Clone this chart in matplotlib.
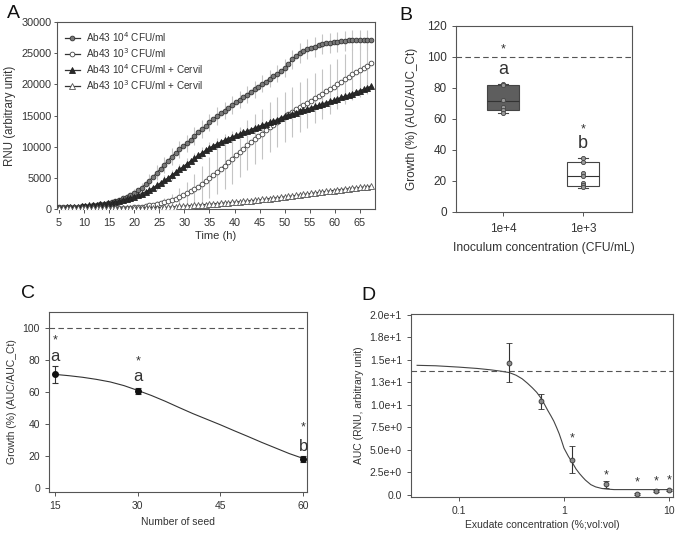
import numpy as np
import matplotlib
matplotlib.use("Agg")
import matplotlib.pyplot as plt

plt.rcParams['font.family'] = ['Liberation Sans', 'DejaVu Sans']

# ---------------- Panel A data (values in thousands RNU) ----------------
time_h = np.arange(5.0, 67.3, 0.75)
circ_1e4 = [0.25, 0.27, 0.29, 0.31, 0.34, 0.37, 0.42, 0.47, 0.53, 0.60, 0.68, 0.77, 0.87, 0.97,
            1.10, 1.27, 1.48, 1.72, 2.00, 2.30, 2.60, 3.00, 3.45, 3.95, 4.55, 5.15, 5.80, 6.45,
            7.10, 7.75, 8.40, 9.00, 9.55, 10.05, 10.55, 11.1, 11.7, 12.3, 12.8, 13.3, 13.9, 14.4,
            14.9, 15.35, 15.8, 16.25, 16.7, 17.15, 17.55, 17.95, 18.35, 18.8, 19.2, 19.65, 20.1,
            20.45, 20.9, 21.3, 21.7, 22.1, 22.6, 23.2, 24.0, 24.6, 25.0, 25.3, 25.6, 25.85, 26.05,
            26.25, 26.4, 26.55, 26.65, 26.75, 26.85, 26.95, 27.0, 27.05, 27.1, 27.1, 27.15, 27.15,
            27.1, 27.1]
circ_1e3 = [0.15, 0.15, 0.14, 0.14, 0.13, 0.13, 0.12, 0.12, 0.12, 0.12, 0.12, 0.12, 0.12, 0.12,
            0.13, 0.14, 0.16, 0.18, 0.20, 0.23, 0.28, 0.33, 0.40, 0.48, 0.58, 0.68, 0.80, 0.93,
            1.08, 1.25, 1.45, 1.67, 1.92, 2.20, 2.50, 2.85, 3.20, 3.60, 4.05, 4.50, 5.00, 5.45,
            5.95, 6.45, 6.95, 7.50, 8.05, 8.65, 9.15, 9.65, 10.2, 10.7, 11.2, 11.7, 12.1, 12.6,
            13.1, 13.5, 14.0, 14.4, 14.8, 15.2, 15.6, 16.0, 16.3, 16.7, 17.0, 17.4, 17.8, 18.2,
            18.5, 18.9, 19.3, 19.6, 20.0, 20.4, 20.8, 21.2, 21.6, 21.9, 22.3, 22.6, 23.0, 23.4]
tri_1e4 = [0.20, 0.22, 0.25, 0.28, 0.32, 0.37, 0.43, 0.50, 0.57, 0.64, 0.71, 0.79, 0.87, 0.95,
           1.04, 1.14, 1.26, 1.40, 1.56, 1.76, 1.98, 2.22, 2.48, 2.76, 3.08, 3.42, 3.80, 4.20,
           4.60, 5.00, 5.45, 5.90, 6.35, 6.80, 7.25, 7.70, 8.15, 8.60, 9.00, 9.40, 9.80, 10.15,
           10.45, 10.75, 11.05, 11.30, 11.55, 11.80, 12.05, 12.30, 12.50, 12.75, 13.0, 13.2,
           13.45, 13.65, 13.9, 14.1, 14.35, 14.6, 14.85, 15.05, 15.25, 15.45, 15.65, 15.85,
           16.05, 16.25, 16.45, 16.65, 16.85, 17.05, 17.25, 17.45, 17.65, 17.9, 18.1, 18.3,
           18.5, 18.75, 19.0, 19.2, 19.45, 19.7]
tri_1e3 = [0.10, 0.10, 0.10, 0.10, 0.10, 0.10, 0.10, 0.10, 0.10, 0.10, 0.10, 0.10, 0.10, 0.10,
           0.10, 0.10, 0.11, 0.11, 0.12, 0.12, 0.13, 0.14, 0.15, 0.16, 0.17, 0.19, 0.21, 0.23,
           0.26, 0.29, 0.33, 0.37, 0.41, 0.45, 0.50, 0.54, 0.58, 0.62, 0.67, 0.72, 0.77, 0.82,
           0.87, 0.92, 0.97, 1.02, 1.07, 1.12, 1.17, 1.22, 1.28, 1.34, 1.40, 1.46, 1.53, 1.60,
           1.67, 1.74, 1.81, 1.88, 1.95, 2.02, 2.10, 2.18, 2.26, 2.34, 2.42, 2.50, 2.58, 2.66,
           2.74, 2.82, 2.90, 2.97, 3.04, 3.11, 3.18, 3.25, 3.32, 3.39, 3.46, 3.53, 3.60, 3.67]
# error (SE) at every other time point (thousands)
err_circ_1e4 = [0.05, 0.05, 0.06, 0.08, 0.1, 0.12, 0.15, 0.2, 0.3, 0.45, 0.6, 0.8, 1.0, 1.2,
                1.3, 1.4, 1.4, 1.4, 1.4, 1.4, 1.4, 1.4, 1.4, 1.4, 1.4, 1.4, 1.4, 1.4, 1.4, 1.4,
                1.5, 1.5, 1.6, 1.6, 1.6, 1.6, 1.6, 1.6, 1.6, 1.6, 1.6, 1.6]
err_circ_1e3 = [0.05, 0.05, 0.05, 0.05, 0.05, 0.05, 0.05, 0.05, 0.08, 0.1, 0.15, 0.2, 0.3, 0.45,
                0.7, 1.0, 1.4, 1.9, 2.4, 2.9, 3.3, 3.6, 3.8, 4.0, 4.0, 4.0, 4.0, 4.0, 4.0, 4.0,
                4.0, 4.0, 4.0, 4.0, 4.0, 4.0, 4.0, 4.0, 4.0, 4.0, 4.0, 4.0]
err_tri_1e4 = [0.05, 0.05, 0.06, 0.07, 0.08, 0.1, 0.12, 0.15, 0.2, 0.3, 0.4, 0.5, 0.6, 0.7,
               0.8, 0.8, 0.9, 0.9, 0.9, 0.9, 0.9, 1.0, 1.0, 1.0, 1.0, 1.0, 1.0, 1.0, 1.0, 1.0,
               1.0, 1.0, 1.0, 1.0, 1.0, 1.0, 1.0, 1.0, 1.0, 1.0, 1.0, 1.0]
err_tri_1e3 = [0.03, 0.03, 0.03, 0.03, 0.03, 0.03, 0.03, 0.03, 0.03, 0.03, 0.04, 0.05, 0.06, 0.08,
               0.1, 0.12, 0.15, 0.18, 0.2, 0.22, 0.25, 0.28, 0.3, 0.32, 0.35, 0.38, 0.4, 0.4,
               0.4, 0.4, 0.4, 0.4, 0.4, 0.4, 0.4, 0.4, 0.4, 0.4, 0.4, 0.4, 0.4, 0.4]
legend_labels = ["Ab43 10$^4$ CFU/ml", "Ab43 10$^3$ CFU/ml",
                 "Ab43 10$^4$ CFU/ml + Cervil", "Ab43 10$^3$ CFU/ml + Cervil"]

# ---------------- Panel B data ----------------
b_categories = ["1e+4", "1e+3"]
b_q1 = [65.6, 17.0]
b_med = [71.6, 23.4]
b_q3 = [81.9, 32.3]
b_whislo = [63.9, 15.3]
b_whishi = [82.5, 34.8]
b_points_1e4 = [82.5, 82.0, 72.0, 67.5, 66.0, 64.0]
b_points_1e3 = [35.0, 32.5, 25.0, 23.5, 18.5, 17.5, 16.0]
b_star_y = [105, 53]
b_letter = ["a", "b"]
b_letter_y = [92, 44]

# ---------------- Panel C data ----------------
c_seeds = [15, 30, 60]
c_growth = [71.0, 60.5, 18.0]
c_err = [5.5, 2.0, 2.0]
c_fit_x = [15, 17.5, 20, 22.5, 25, 27.5, 30, 32.5, 35, 37.5, 40, 42.5, 45, 47.5, 50, 52.5, 55, 57.5, 60]
c_fit_y = [71.0, 70.2, 69.2, 67.9, 66.3, 64.0, 61.0, 57.8, 54.2, 50.3, 46.5, 43.0, 39.5, 35.8,
           32.2, 28.5, 25.0, 21.5, 18.5]
c_star_y = [92, 79, 38]
c_letter = ["a", "a", "b"]
c_letter_y = [82, 70, 26]

# ---------------- Panel D data ----------------
d_conc = [0.3, 0.6, 1.2, 2.5, 5.0, 7.5, 10.0]
d_auc = [14.7, 10.4, 3.9, 1.2, 0.15, 0.45, 0.55]
d_err = [2.2, 0.8, 1.5, 0.4, 0.1, 0.1, 0.1]
d_fit_x = [0.04, 0.06, 0.1, 0.15, 0.2, 0.25, 0.3, 0.35, 0.4, 0.45, 0.5, 0.55, 0.6, 0.65, 0.7,
           0.75, 0.8, 0.85, 0.9, 0.95, 1.0, 1.1, 1.2, 1.3, 1.4, 1.5, 1.6, 1.8, 2.0, 2.3, 2.6,
           3.0, 4.0, 6.0, 10.0]
d_fit_y = [14.4, 14.35, 14.2, 14.05, 13.9, 13.75, 13.6, 13.3, 12.9, 12.4, 11.9, 11.4, 10.8,
           10.1, 9.4, 8.8, 8.2, 7.5, 6.8, 6.0, 5.2, 4.3, 3.6, 2.9, 2.4, 2.0, 1.65, 1.15, 0.9,
           0.72, 0.65, 0.6, 0.6, 0.6, 0.6]
d_star_x = [1.2, 2.5, 5.0, 7.5, 10.0]
d_star_y = [6.3, 2.2, 1.4, 1.5, 1.6]
d_ctrl = 13.8

# ---------------- figure ----------------
fig = plt.figure(figsize=(6.85, 5.36), dpi=100)
txt = '#333333'
spine_col = '#555555'
narrow = ['Liberation Sans Narrow', 'Liberation Sans', 'DejaVu Sans']

def style_axes(ax, fs=7.5, family=None):
    for s in ax.spines.values():
        s.set_color(spine_col)
        s.set_linewidth(0.8)
    ax.tick_params(colors=spine_col, labelcolor=txt, labelsize=fs, length=3, width=0.7)
    if family:
        for lab in ax.get_xticklabels() + ax.get_yticklabels():
            lab.set_family(family)

# Panel A
axA = fig.add_axes([0.0832, 0.610, 0.4642, 0.349])
t = np.asarray(time_h)
series = [
    (circ_1e4, err_circ_1e4, 'o', '#7a7a7a', '#333333'),
    (circ_1e3, err_circ_1e3, 'o', 'white', '#444444'),
    (tri_1e4, err_tri_1e4, '^', '#2a2a2a', '#222222'),
    (tri_1e3, err_tri_1e3, '^', 'white', '#555555'),
]
for vals, errs, mk, fc, ec in series:
    v = np.asarray(vals) * 1000
    axA.errorbar(t[::2], v[::2], yerr=np.asarray(errs) * 1000, fmt='none',
                 ecolor='#c4c4c4', elinewidth=0.8, capsize=0, zorder=1)
for (vals, errs, mk, fc, ec), lab in zip(series, legend_labels):
    v = np.asarray(vals) * 1000
    axA.plot(t, v, color='#333333', lw=0.9, marker=mk, ms=3.4 if mk == 'o' else 3.7,
             mfc=fc, mec=ec, mew=0.6, label=lab, zorder=3)
axA.set_xlim(4.6, 68)
axA.set_ylim(0, 30000)
axA.set_xticks(np.arange(5, 66, 5))
axA.set_yticks(np.arange(0, 30001, 5000))
axA.set_xlabel("Time (h)", fontsize=8, color=txt, family=narrow, labelpad=2)
axA.set_ylabel("RNU (arbitrary unit)", fontsize=8.3, color=txt, family=narrow)
style_axes(axA, fs=7.8, family=narrow)
axA.tick_params(axis='y', length=2, pad=2)
axA.yaxis.set_label_coords(-0.128, 0.5)
leg = axA.legend(loc='upper left', frameon=False, prop={'family': narrow, 'size': 7.2},
                 handlelength=1.5, borderaxespad=0.4, labelspacing=0.22, handletextpad=0.6)
for tx in leg.get_texts():
    tx.set_color(txt)
fig.text(0.010, 0.975, "A", fontsize=14, color='#111111', va='center')

# Panel B
axB = fig.add_axes([0.6657, 0.6045, 0.2569, 0.347])
pos = [1, 2]
stats = []
for i in range(2):
    stats.append(dict(med=b_med[i], q1=b_q1[i], q3=b_q3[i], whislo=b_whislo[i],
                      whishi=b_whishi[i], fliers=[]))
bp = axB.bxp(stats, positions=pos, widths=0.4, patch_artist=True, showfliers=False,
             boxprops=dict(linewidth=0.8, edgecolor='#444444'),
             medianprops=dict(color='#333333', linewidth=0.8),
             whiskerprops=dict(color='#444444', linewidth=0.8),
             capprops=dict(color='#444444', linewidth=0.8), capwidths=0.12)
bp['boxes'][0].set_facecolor('#5e5e5e')
bp['boxes'][1].set_facecolor('white')
for p, pts in zip(pos, [b_points_1e4, b_points_1e3]):
    axB.plot([p] * len(pts), pts, 'o', ms=3, mfc='#9a9a9a', mec='#444444', mew=0.6, zorder=4)
axB.axhline(100, color='#555555', lw=0.8, ls=(0, (5, 3)))
for p, sy, lt, ly in zip(pos, b_star_y, b_letter, b_letter_y):
    axB.text(p, sy, "*", ha='center', va='center', fontsize=9, color=txt)
    axB.text(p, ly, lt, ha='center', va='center', fontsize=13, color=txt)
axB.set_xlim(0.41, 2.61)
axB.set_ylim(0, 120)
axB.set_yticks(np.arange(0, 121, 20))
axB.set_xticks(pos)
axB.set_xticklabels(b_categories)
axB.set_xlabel("Inoculum concentration (CFU/mL)", fontsize=8.7, color=txt, labelpad=5)
axB.set_ylabel("Growth (%) (AUC/AUC_Ct)", fontsize=8.5, color=txt)
style_axes(axB, fs=8.5)
axB.tick_params(axis='x', length=3, pad=5)
axB.yaxis.set_label_coords(-0.215, 0.5)
fig.text(0.583, 0.972, "B", fontsize=14, color='#111111', va='center')

# Panel C
axC = fig.add_axes([0.0715, 0.0821, 0.3766, 0.3358])
axC.plot(c_fit_x, c_fit_y, color='#333333', lw=0.8)
axC.errorbar(c_seeds, c_growth, yerr=c_err, fmt='o', ms=4, color='#111111', ecolor='#333333',
             elinewidth=0.8, capsize=2.5, capthick=0.8, zorder=4)
axC.axhline(100, color='#555555', lw=0.8, ls=(0, (5, 3)))
for xs, sy, lt, ly in zip(c_seeds, c_star_y, c_letter, c_letter_y):
    axC.text(xs, sy, "*", ha='center', va='center', fontsize=9, color=txt)
    axC.text(xs, ly, lt, ha='center', va='center', fontsize=12, color=txt)
axC.set_xlim(13.9, 60.7)
axC.set_ylim(-2.5, 110)
axC.set_xticks([15, 30, 45, 60])
axC.set_yticks(np.arange(0, 101, 20))
axC.set_xlabel("Number of seed", fontsize=7.5, color=txt, labelpad=4)
axC.set_ylabel("Growth (%) (AUC/AUC_Ct)", fontsize=7.5, color=txt, labelpad=4)
style_axes(axC, fs=7.5)
fig.text(0.030, 0.452, "C", fontsize=14, color='#111111', va='center')

# Panel D
axD = fig.add_axes([0.600, 0.0728, 0.3825, 0.3414])
axD.set_xscale('log')
axD.plot(d_fit_x, d_fit_y, color='#444444', lw=0.8)
axD.errorbar(d_conc, d_auc, yerr=d_err, fmt='o', ms=3.5, mfc='#8a8a8a', mec='#333333',
             mew=0.6, ecolor='#333333', elinewidth=0.8, capsize=2.5, capthick=0.8, zorder=4)
axD.axhline(d_ctrl, color='#555555', lw=0.8, ls=(0, (5, 3)))
for xs, sy in zip(d_star_x, d_star_y):
    axD.text(xs, sy, "*", ha='center', va='center', fontsize=9, color=txt)
axD.set_xlim(0.035, 10.9)
axD.set_ylim(-0.22, 20.1)
axD.set_xticks([0.1, 1, 10])
axD.set_xticklabels(["0.1", "1", "10"])
axD.xaxis.set_minor_locator(matplotlib.ticker.NullLocator())
axD.set_yticks(np.arange(0, 20.1, 2.5))
axD.set_yticklabels(["0.0", "2.5e+0", "5.0e+0", "7.5e+0", "1.0e+1", "1.3e+1", "1.5e+1",
                     "1.8e+1", "2.0e+1"])
axD.set_xlabel("Exudate concentration (%;vol:vol)", fontsize=7.5, color=txt, labelpad=3)
axD.set_ylabel("AUC (RNU, arbitrary unit)", fontsize=7.5, color=txt, labelpad=4)
style_axes(axD, fs=7.5)
fig.text(0.528, 0.449, "D", fontsize=14, color='#111111', va='center')

fig.savefig("out.png", dpi=100)
